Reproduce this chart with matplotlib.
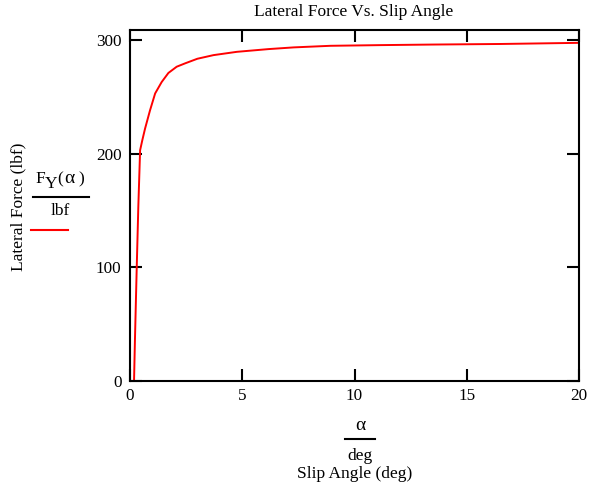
import matplotlib
matplotlib.use("Agg")
import matplotlib.pyplot as plt
from matplotlib.lines import Line2D

# Data
slip_angle = [0.18, 0.22, 0.30, 0.37, 0.45, 0.55, 0.67, 0.89, 1.12, 1.41, 1.71,
              2.08, 2.46, 3.0, 3.72, 4.76, 6.17, 7.29, 8.93, 11.16, 13.5, 16.5, 20.0]
lateral_force = [0, 36, 100, 153, 203, 212, 222, 238, 253, 263, 271,
                 276.5, 279.5, 283.5, 286.7, 289.6, 292, 293.5, 294.9, 295.5, 296, 296.5, 297.5]
x_ticks = [0, 5, 10, 15, 20]
y_ticks = [0, 100, 200, 300]

W, H = 589, 484
fig = plt.figure(figsize=(W / 100, H / 100), dpi=100)
fig.patch.set_facecolor("white")
plt.rcParams["font.family"] = ["Liberation Serif", "DejaVu Serif"]

ax = fig.add_axes([130 / W, 1 - 381 / H, (579 - 130) / W, (381 - 30) / H])
ax.plot(slip_angle, lateral_force, color="#ff0000", lw=1.4)
ax.set_xlim(0, 20)
ax.set_ylim(0, 308.8)
ax.set_xticks(x_ticks)
ax.set_yticks(y_ticks)
for s in ax.spines.values():
    s.set_linewidth(1.5)
    s.set_color("black")
ax.tick_params(direction="in", length=8.5, width=1.5, top=True, right=True,
               labelsize=12.3, colors="black")
ax.tick_params(axis="x", pad=5)
ax.tick_params(axis="y", pad=6)

fs = 12.5
def px(x, y):
    return x / W, 1 - y / H

# Title
fig.text(*px(354, 12), "Lateral Force Vs. Slip Angle", ha="center", va="center", fontsize=fs)
# Y label
fig.text(*px(18, 207), "Lateral Force (lbf)", ha="center", va="center", rotation=90, fontsize=fs)
# Legend / expression on y side: F_Y(α) / lbf
fig.text(*px(35.5, 183), "F", ha="left", va="baseline", fontsize=fs)
fig.text(*px(44.3, 188), "Y", ha="left", va="baseline", fontsize=fs)
fig.text(*px(57, 183), "(", ha="left", va="baseline", fontsize=fs)
fig.text(*px(69.5, 183), "α", ha="center", va="baseline", fontsize=14)
fig.text(*px(78.5, 183), ")", ha="left", va="baseline", fontsize=fs)
fig.add_artist(Line2D([33 / W, 89 / W], [1 - 197 / H, 1 - 197 / H], color="black", lw=1.5,
                      transform=fig.transFigure))
fig.text(*px(60, 211), "lbf", ha="center", va="center", fontsize=fs)
fig.add_artist(Line2D([31 / W, 68 / W], [1 - 229.5 / H, 1 - 229.5 / H], color="#ff0000", lw=1.5,
                      transform=fig.transFigure))
# X expression: α / deg
fig.text(*px(360, 425), "α", ha="center", va="center", fontsize=14)
fig.add_artist(Line2D([345 / W, 375 / W], [1 - 439 / H, 1 - 439 / H], color="black", lw=1.5,
                      transform=fig.transFigure))
fig.text(*px(360, 456), "deg", ha="center", va="center", fontsize=fs)
fig.text(*px(355, 474), "Slip Angle (deg)", ha="center", va="center", fontsize=fs)

fig.savefig("out.png", dpi=100)
